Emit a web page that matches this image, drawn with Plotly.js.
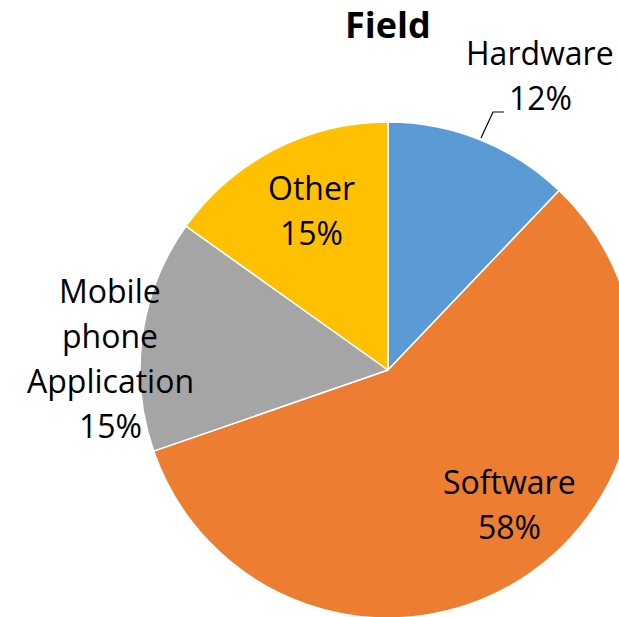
<!DOCTYPE html>
<html>
<head>
<meta charset="utf-8">
<script src="https://cdn.plot.ly/plotly-3.0.1.min.js"></script>
<style>
html,body{margin:0;padding:0;overflow:hidden;background:#fff;width:619px;height:617px;}
#chart{width:640px;height:640px;}
</style>
</head>
<body>
<div id="chart"></div>
<script>
// Data (counts; shares shown as rounded percentages)
const categories = ['Hardware', 'Software', 'Mobile phone Application', 'Other'];
const values = [8, 38, 10, 10];
const colors = ['#5B9BD5', '#ED7D31', '#A5A5A5', '#FFC000'];
const chartTitle = 'Field';

// Layout helpers (pixel -> paper, figure is 640x640 with zero margins)
const W = 640, H = 640;
const px = x => x / W;
const py = y => 1 - y / H;

// label anchor: centre x and centre y of first line (pixels); line step
const labelPos = [
  [540, 53],
  [509, 481],
  [110, 290],
  [311, 188]
];
const lineStep = 45;
const FONT = '"Open Sans", Lato, sans-serif';

const total = values.reduce((a, b) => a + b, 0);
const annotations = [];
categories.forEach((c, i) => {
  const lines = c.split(' ').concat([Math.round(values[i] / total * 100) + '%']);
  lines.forEach((t, k) => {
    annotations.push({
      text: t,
      x: px(labelPos[i][0]), y: py(labelPos[i][1] + k * lineStep),
      xref: 'paper', yref: 'paper', xanchor: 'center', yanchor: 'middle',
      showarrow: false,
      font: {family: FONT, size: 32, color: '#000'}
    });
  });
});

const trace = {
  type: 'pie',
  labels: categories,
  values: values,
  sort: false,
  direction: 'clockwise',
  rotation: 0,
  textinfo: 'none',
  hoverinfo: 'label+percent',
  marker: {colors: colors, line: {color: '#FFFFFF', width: 1.5}},
  domain: {x: [px(140), px(636)], y: [py(618), py(122)]},
  showlegend: false
};

const layout = {
  width: W, height: H,
  margin: {l: 0, r: 0, t: 0, b: 0},
  paper_bgcolor: '#FFFFFF',
  title: {
    text: '<b>' + chartTitle + '</b>',
    x: px(388), y: py(25), xanchor: 'center', yanchor: 'middle',
    xref: 'paper', yref: 'paper',
    font: {family: FONT, size: 36, color: '#000'}
  },
  annotations: annotations,
  shapes: [{
    type: 'path', xref: 'paper', yref: 'paper',
    path: `M ${px(481)} ${py(138)} L ${px(493)} ${py(112)} L ${px(504)} ${py(112)}`,
    line: {color: '#000', width: 1.2}
  }]
};

Plotly.newPlot('chart', [trace], layout, {displayModeBar: false, staticPlot: true});
</script>
</body>
</html>
